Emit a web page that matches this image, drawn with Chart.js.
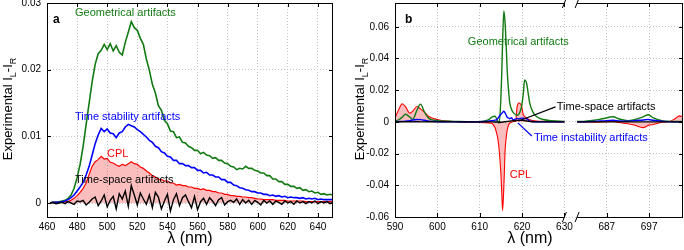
<!DOCTYPE html>
<html>
<head>
<meta charset="utf-8">
<script src="https://cdn.jsdelivr.net/npm/chart.js@4.4.0/dist/chart.umd.min.js"></script>
<style>
  html, body { margin: 0; padding: 0; background: #fff; }
  #wrap { position: relative; width: 684px; height: 250px; overflow: hidden; }
  #chartA { position: absolute; left: 0; top: 0; }
  #chartB { position: absolute; left: 340px; top: 0; }
</style>
</head>
<body>
<div id="wrap">
  <canvas id="chartA" width="340" height="250"></canvas>
  <canvas id="chartB" width="344" height="250"></canvas>
</div>
<script>
// ---- panel a : spectra, lambda in nm ----
const waveA = [
  462, 464, 466, 468, 470, 472, 474, 476, 478, 480,
  482, 484, 486, 488, 490, 492, 494, 496, 498, 500,
  502, 504, 506, 508, 510, 512, 514, 516, 518, 520,
  522, 524, 526, 528, 530, 532, 534, 536, 538, 540,
  542, 544, 546, 548, 550, 552, 554, 556, 558, 560,
  562, 564, 566, 568, 570, 572, 574, 576, 578, 580,
  582, 584, 586, 588, 590, 592, 594, 596, 598, 600,
  602, 604, 606, 608, 610, 612, 614, 616, 618, 620,
  622, 624, 626, 628, 630, 632, 634, 636, 638, 640,
  642, 644, 646, 648, 650
];
const geoA = [
  0.0000, 0.0001, 0.0001, 0.0002, 0.0003, 0.0004, 0.0007, 0.0012, 0.0022, 0.0038,
  0.0058, 0.0085, 0.0118, 0.0150, 0.0182, 0.0208, 0.0224, 0.0229, 0.0238, 0.0230,
  0.0239, 0.0228, 0.0236, 0.0226, 0.0222, 0.0241, 0.0256, 0.0272, 0.0263, 0.0259,
  0.0247, 0.0238, 0.0216, 0.0199, 0.0178, 0.0165, 0.0146, 0.0139, 0.0124, 0.0119,
  0.0108, 0.0107, 0.0098, 0.0099, 0.0091, 0.0090, 0.0085, 0.0083, 0.0079, 0.0079,
  0.0074, 0.0076, 0.0072, 0.0071, 0.0067, 0.0068, 0.0064, 0.0064, 0.0060, 0.0059,
  0.0055, 0.0054, 0.0050, 0.0052, 0.0051, 0.0055, 0.0052, 0.0052, 0.0049, 0.0048,
  0.0045, 0.0045, 0.0041, 0.0041, 0.0036, 0.0036, 0.0032, 0.0032, 0.0028, 0.0028,
  0.0025, 0.0025, 0.0022, 0.0023, 0.0019, 0.0020, 0.0017, 0.0018, 0.0015, 0.0016,
  0.0013, 0.0014, 0.0012, 0.0013, 0.0012
];
const stabA = [
  0.0000, 0.0001, 0.0001, 0.0001, 0.0002, 0.0003, 0.0005, 0.0008, 0.0012, 0.0018,
  0.0024, 0.0031, 0.0042, 0.0055, 0.0072, 0.0089, 0.0102, 0.0112, 0.0107, 0.0111,
  0.0105, 0.0104, 0.0098, 0.0105, 0.0107, 0.0114, 0.0118, 0.0116, 0.0114, 0.0110,
  0.0107, 0.0103, 0.0099, 0.0094, 0.0091, 0.0085, 0.0083, 0.0077, 0.0075, 0.0070,
  0.0069, 0.0064, 0.0064, 0.0059, 0.0059, 0.0056, 0.0056, 0.0053, 0.0053, 0.0049,
  0.0049, 0.0045, 0.0046, 0.0042, 0.0042, 0.0039, 0.0039, 0.0035, 0.0035, 0.0031,
  0.0031, 0.0027, 0.0026, 0.0023, 0.0022, 0.0020, 0.0019, 0.0017, 0.0017, 0.0015,
  0.0015, 0.0013, 0.0013, 0.0011, 0.0012, 0.0010, 0.0011, 0.0009, 0.0010, 0.0008,
  0.0009, 0.0008, 0.0008, 0.0007, 0.0008, 0.0006, 0.0007, 0.0006, 0.0007, 0.0005,
  0.0006, 0.0005, 0.0005, 0.0005, 0.0005
];
const cplA = [
  0.0000, 0.0000, 0.0001, 0.0001, 0.0001, 0.0002, 0.0002, 0.0004, 0.0007, 0.0011,
  0.0016, 0.0022, 0.0030, 0.0043, 0.0055, 0.0062, 0.0065, 0.0070, 0.0066, 0.0067,
  0.0061, 0.0060, 0.0057, 0.0055, 0.0058, 0.0056, 0.0059, 0.0062, 0.0059, 0.0058,
  0.0054, 0.0052, 0.0048, 0.0045, 0.0041, 0.0039, 0.0036, 0.0035, 0.0033, 0.0033,
  0.0030, 0.0030, 0.0027, 0.0028, 0.0026, 0.0026, 0.0024, 0.0024, 0.0022, 0.0022,
  0.0020, 0.0021, 0.0019, 0.0019, 0.0017, 0.0017, 0.0015, 0.0015, 0.0013, 0.0013,
  0.0011, 0.0011, 0.0010, 0.0010, 0.0009, 0.0009, 0.0008, 0.0008, 0.0007, 0.0006,
  0.0006, 0.0005, 0.0005, 0.0005, 0.0005, 0.0004, 0.0004, 0.0004, 0.0004, 0.0003,
  0.0003, 0.0003, 0.0003, 0.0003, 0.0003, 0.0002, 0.0002, 0.0002, 0.0002, 0.0002,
  0.0002, 0.0002, 0.0002, 0.0002, 0.0002
];
const tsA = [
  0.0000, 0.0001, -0.0001, 0.0000, 0.0001, -0.0001, 0.0002, 0.0000, -0.0002, 0.0003,
  0.0002, 0.0004, -0.0003, 0.0001, 0.0006, 0.0009, -0.0004, 0.0003, 0.0012, -0.0006,
  0.0004, 0.0010, -0.0009, 0.0014, 0.0006, 0.0018, -0.0005, 0.0026, 0.0012, -0.0003,
  0.0015, 0.0006, -0.0002, 0.0012, -0.0007, 0.0016, 0.0009, -0.0009, 0.0003, 0.0013,
  -0.0012, 0.0005, 0.0014, -0.0004, 0.0008, 0.0012, 0.0002, -0.0007, 0.0010, -0.0010,
  0.0002, 0.0007, -0.0002, 0.0008, 0.0003, -0.0004, 0.0005, 0.0008, -0.0003, 0.0002,
  0.0004, 0.0001, 0.0006, -0.0002, 0.0005, 0.0000, 0.0004, -0.0002, 0.0004, 0.0001,
  -0.0003, 0.0004, 0.0000, 0.0003, -0.0002, 0.0003, 0.0001, -0.0002, 0.0003, 0.0000,
  0.0002, -0.0002, 0.0003, 0.0000, 0.0002, -0.0001, 0.0002, 0.0000, 0.0003, -0.0001,
  0.0002, 0.0000, 0.0002, -0.0001, 0.0001
];
const xTicksA = [460, 480, 500, 520, 540, 560, 580, 600, 620, 640];
const yTicksA = [0, 0.01, 0.02, 0.03];

// ---- panel b : broken lambda axis (590-630 | 680-705) ----
const waveB = [
  590, 591, 591.7, 592.5, 593.5, 594.2, 595.2, 596, 597, 598,
  599.4, 601, 603, 605, 607, 609, 611, 612, 612.8, 613.2,
  613.6, 614, 614.3, 614.6, 615, 615.2, 615.4, 615.7, 616, 616.3,
  616.5, 616.9, 617.1, 617.5, 617.9, 618.5, 618.8, 619.3, 619.9, 620.3,
  620.6, 621.1, 621.5, 621.8, 622.5, 623.5, 625, 627, 630, 631,
  680, 682, 684, 686, 688.5, 690, 692, 693.5, 695.6, 696.8,
  698, 700, 702, 703, 704.2, 705
];
const geoB = [
  0.0005, 0.0015, 0.0030, 0.0048, 0.0030, 0.0016, 0.0075, 0.0112, 0.0060, 0.0022,
  0.0010, 0.0006, 0.0004, 0.0002, 0.0001, 0.0001, 0.0005, 0.0012, 0.0028, 0.0034,
  0.0036, 0.0020, 0.0002, -0.0009, 0.0150, 0.0300, 0.0500, 0.0700, 0.0620, 0.0450,
  0.0320, 0.0170, 0.0120, 0.0080, 0.0060, 0.0045, 0.0042, 0.0050, 0.0100, 0.0180,
  0.0265, 0.0240, 0.0170, 0.0120, 0.0065, 0.0032, 0.0015, 0.0007, 0.0003, null,
  0.0002, 0.0004, 0.0010, 0.0020, 0.0032, 0.0018, 0.0008, 0.0014, 0.0032, 0.0045,
  0.0025, 0.0008, 0.0003, 0.0002, 0.0002, 0.0002
];
const cplB = [
  0.0025, 0.0085, 0.0114, 0.0095, 0.0055, 0.0068, 0.0097, 0.0082, 0.0060, 0.0034,
  0.0019, 0.0008, 0.0004, 0.0000, -0.0004, -0.0002, -0.0005, -0.0006, -0.0009, -0.0019,
  -0.0035, -0.0072, -0.0110, -0.0178, -0.0326, -0.0440, -0.0559, -0.0410, -0.0178, -0.0090,
  -0.0051, -0.0015, -0.0008, -0.0003, 0.0002, 0.0002, 0.0090, 0.0119, 0.0097, 0.0044,
  0.0035, 0.0023, 0.0018, 0.0013, 0.0008, 0.0005, 0.0003, 0.0001, 0.0000, null,
  0.0000, 0.0000, -0.0002, 0.0000, 0.0002, -0.0004, -0.0012, -0.0020, -0.0036, -0.0022,
  -0.0016, -0.0002, 0.0004, 0.0018, 0.0038, 0.0030
];
const stabB = [
  0.0000, 0.0002, 0.0003, 0.0005, 0.0008, 0.0012, 0.0015, 0.0014, 0.0010, 0.0005,
  0.0002, 0.0001, 0.0000, 0.0000, 0.0000, 0.0000, 0.0002, 0.0004, 0.0007, 0.0009,
  0.0011, 0.0013, 0.0022, 0.0034, 0.0048, 0.0054, 0.0059, 0.0068, 0.0056, 0.0040,
  0.0029, 0.0024, 0.0020, 0.0026, 0.0013, 0.0018, 0.0022, 0.0019, 0.0024, 0.0023,
  0.0021, 0.0019, 0.0012, 0.0005, 0.0002, 0.0001, 0.0000, 0.0000, 0.0000, null,
  0.0000, 0.0001, 0.0003, 0.0006, 0.0010, 0.0006, 0.0004, 0.0008, 0.0012, 0.0015,
  0.0010, 0.0004, 0.0001, 0.0000, 0.0000, 0.0000
];
const tsB = [
  0.0000, 0.0000, 0.0001, 0.0000, 0.0001, 0.0000, 0.0001, 0.0000, 0.0000, 0.0001,
  0.0000, 0.0000, 0.0000, 0.0000, 0.0000, 0.0000, 0.0000, 0.0000, 0.0000, 0.0000,
  -0.0001, -0.0001, -0.0001, -0.0002, -0.0002, -0.0002, -0.0001, 0.0000, 0.0001, 0.0002,
  0.0003, 0.0004, 0.0005, 0.0006, 0.0007, 0.0008, 0.0009, 0.0010, 0.0010, 0.0009,
  0.0008, 0.0006, 0.0004, 0.0003, 0.0001, 0.0000, 0.0000, 0.0000, 0.0000, null,
  0.0000, 0.0000, 0.0000, 0.0000, 0.0000, 0.0000, 0.0000, 0.0000, 0.0000, 0.0000,
  0.0000, 0.0000, 0.0000, 0.0000, 0.0000, 0.0000
];
const xTicksB = [590, 600, 610, 620, 630, 687, 697];
const yTicksB = [-0.06, -0.04, -0.02, 0, 0.02, 0.04, 0.06];

// everything from 680 nm on is slid left so it sits just after the break
const breakEnd = 680;
const breakShift = 47;
function axisPos(w) { return w >= breakEnd ? w - breakShift : w; }

const FONT = '"Liberation Sans", Arial, Helvetica, sans-serif';
const GREEN = '#127a12';
const BLUE = '#0000ff';
const RED = '#ff0000';
const BLACK = '#000000';

function points(xs, ys, mapX) {
  return xs.map((x, i) => ({ x: mapX ? mapX(x) : x, y: ys[i] }));
}

function fmt(v) { return v === 0 ? '0' : String(v); }

// y axis title with subscripts, rotated
function drawYTitle(ctx, x, y, size) {
  const parts = [['Experimental I', false], ['L', true], ['-I', false], ['R', true]];
  const fontOf = sub => (sub ? Math.round(size * 0.72) : size) + 'px ' + FONT;
  ctx.save();
  ctx.translate(x, y);
  ctx.rotate(-Math.PI / 2);
  ctx.fillStyle = '#000';
  ctx.textBaseline = 'alphabetic';
  ctx.textAlign = 'left';
  let total = 0;
  parts.forEach(p => { ctx.font = fontOf(p[1]); total += ctx.measureText(p[0]).width; });
  let cx = -total / 2;
  parts.forEach(p => {
    ctx.font = fontOf(p[1]);
    ctx.fillText(p[0], cx, p[1] ? size * 0.28 : 0);
    cx += ctx.measureText(p[0]).width;
  });
  ctx.restore();
}

// box, inward ticks, axis break marks
function drawFrame(chart, gap) {
  const ctx = chart.ctx;
  const a = chart.chartArea;
  const xs = chart.scales.x, ys = chart.scales.y;
  ctx.save();
  ctx.strokeStyle = '#000';
  ctx.lineWidth = 1;
  let segs = [[a.left, a.right]];
  let g0, g1;
  if (gap) {
    g0 = xs.getPixelForValue(gap[0]);
    g1 = xs.getPixelForValue(gap[1]);
    segs = [[a.left, g0], [g1, a.right]];
  }
  ctx.beginPath();
  segs.forEach(s => {
    ctx.moveTo(s[0], a.top + 0.5); ctx.lineTo(s[1], a.top + 0.5);
    ctx.moveTo(s[0], a.bottom + 0.5); ctx.lineTo(s[1], a.bottom + 0.5);
  });
  ctx.moveTo(a.left + 0.5, a.top); ctx.lineTo(a.left + 0.5, a.bottom);
  ctx.moveTo(a.right - 0.5, a.top); ctx.lineTo(a.right - 0.5, a.bottom);
  const tl = 4;
  xs.ticks.forEach(t => {
    const px = Math.round(xs.getPixelForValue(t.value)) + 0.5;
    ctx.moveTo(px, a.bottom); ctx.lineTo(px, a.bottom - tl);
    ctx.moveTo(px, a.top); ctx.lineTo(px, a.top + tl);
  });
  ys.ticks.forEach(t => {
    const py = Math.round(ys.getPixelForValue(t.value)) + 0.5;
    ctx.moveTo(a.left, py); ctx.lineTo(a.left + tl, py);
    ctx.moveTo(a.right, py); ctx.lineTo(a.right - tl, py);
  });
  ctx.stroke();
  if (gap) {
    ctx.beginPath();
    [g0, g1].forEach(g => {
      [a.top, a.bottom].forEach(yy => {
        ctx.moveTo(g - 2, yy + 5); ctx.lineTo(g + 2, yy - 5);
      });
    });
    ctx.stroke();
  }
  ctx.restore();
}

function drawNotes(chart, notes) {
  const ctx = chart.ctx;
  const xs = chart.scales.x, ys = chart.scales.y;
  ctx.save();
  ctx.textBaseline = 'middle';
  ctx.textAlign = 'left';
  notes.forEach(n => {
    ctx.font = '11px ' + FONT;
    ctx.fillStyle = n.color;
    ctx.fillText(n.text, xs.getPixelForValue(n.x), ys.getPixelForValue(n.y));
  });
  ctx.restore();
}

function drawLeaders(chart, leaders) {
  const ctx = chart.ctx;
  const xs = chart.scales.x, ys = chart.scales.y;
  ctx.save();
  ctx.lineWidth = 1.2;
  leaders.forEach(l => {
    ctx.strokeStyle = l.color;
    ctx.beginPath();
    ctx.moveTo(xs.getPixelForValue(l.from[0]), ys.getPixelForValue(l.from[1]));
    ctx.lineTo(xs.getPixelForValue(l.to[0]), ys.getPixelForValue(l.to[1]));
    ctx.stroke();
  });
  ctx.restore();
}

function drawXTitle(chart, cx) {
  const ctx = chart.ctx;
  ctx.save();
  ctx.font = '16px ' + FONT;
  ctx.fillStyle = '#000';
  ctx.textAlign = 'center';
  ctx.textBaseline = 'middle';
  ctx.fillText('λ (nm)', cx, 239);
  ctx.restore();
}

function drawPanelLetter(chart, letter, dx) {
  const ctx = chart.ctx;
  const a = chart.chartArea;
  ctx.save();
  ctx.font = 'bold 12px ' + FONT;
  ctx.fillStyle = '#000';
  ctx.textBaseline = 'middle';
  ctx.fillText(letter, a.left + dx, 20);
  ctx.restore();
}

const notesA = [
  { text: 'Geometrical artifacts', x: 478.6, y: 0.0285, color: GREEN },
  { text: 'Time stability artifacts', x: 478.6, y: 0.0129, color: BLUE },
  { text: 'CPL', x: 499.9, y: 0.0074, color: RED },
  { text: 'Time-space artifacts', x: 478.6, y: 0.0035, color: BLACK }
];
const notesB = [
  { text: 'Geometrical artifacts', x: 607.2, y: 0.0502, color: GREEN },
  { text: 'Time-space artifacts', x: 628.2, y: 0.0095, color: BLACK },
  { text: 'Time instability artifacts', x: 622.8, y: -0.0102, color: BLUE },
  { text: 'CPL', x: 617.1, y: -0.0337, color: RED }
];
const leadersB = [
  { from: [627.9, 0.0095], to: [619.2, 0.0006], color: BLACK },
  { from: [622.3, -0.0089], to: [619.0, -0.0006], color: BLUE }
];

function baseScales(xMin, xMax, xTicks, yMin, yMax, yTicks, yWidth, xLabel) {
  const tickFont = { family: FONT, size: 10 };
  return {
    x: {
      type: 'linear', min: xMin, max: xMax,
      afterBuildTicks: s => { s.ticks = xTicks.map(v => ({ value: v })); },
      afterFit: s => { s.height = 33; s.paddingLeft = 0; s.paddingRight = 0; },
      ticks: { font: tickFont, color: '#000', padding: 4, maxRotation: 0, autoSkip: false, callback: xLabel },
      grid: { color: '#c4c4c4', lineWidth: 1, drawTicks: false },
      border: { display: false, dash: [1, 2] }
    },
    y: {
      type: 'linear', min: yMin, max: yMax,
      afterBuildTicks: s => { s.ticks = yTicks.map(v => ({ value: v })); },
      afterFit: s => { s.width = yWidth; s.paddingTop = 0; s.paddingBottom = 0; },
      ticks: { font: tickFont, color: '#000', padding: 6, callback: v => fmt(v) },
      grid: { color: '#c4c4c4', lineWidth: 1, drawTicks: false },
      border: { display: false, dash: [1, 2] }
    }
  };
}

new Chart(document.getElementById('chartA'), {
  type: 'line',
  data: {
    datasets: [
      { label: 'Time-space artifacts', data: points(waveA, tsA), borderColor: BLACK, borderWidth: 1.4 },
      { label: 'Time stability artifacts', data: points(waveA, stabA), borderColor: BLUE, borderWidth: 1.6 },
      { label: 'Geometrical artifacts', data: points(waveA, geoA), borderColor: GREEN, borderWidth: 1.6 },
      { label: 'CPL', data: points(waveA, cplA), borderColor: RED, borderWidth: 1.2,
        fill: 'origin', backgroundColor: 'rgba(240, 40, 40, 0.3)' }
    ]
  },
  options: {
    responsive: false,
    animation: false,
    layout: { padding: { left: 0, right: 7, top: 3, bottom: 0 } },
    elements: { point: { radius: 0 }, line: { tension: 0 } },
    plugins: { legend: { display: false }, tooltip: { enabled: false } },
    scales: baseScales(460, 650, xTicksA, -0.0021, 0.03, yTicksA, 47, v => String(v))
  },
  plugins: [{
    id: 'decorA',
    afterDatasetsDraw(chart) {
      drawFrame(chart, null);
      drawNotes(chart, notesA);
      drawPanelLetter(chart, 'a', 6);
    },
    afterDraw(chart) {
      drawXTitle(chart, 190);
      drawYTitle(chart.ctx, 12, 109, 13);
    }
  }]
});

new Chart(document.getElementById('chartB'), {
  type: 'line',
  data: {
    datasets: [
      { label: 'Time-space artifacts', data: points(waveB, tsB, axisPos), borderColor: BLACK, borderWidth: 1.4 },
      { label: 'Time instability artifacts', data: points(waveB, stabB, axisPos), borderColor: BLUE, borderWidth: 1.4 },
      { label: 'Geometrical artifacts', data: points(waveB, geoB, axisPos), borderColor: GREEN, borderWidth: 1.4 },
      { label: 'CPL', data: points(waveB, cplB, axisPos), borderColor: RED, borderWidth: 1.1,
        fill: 'origin', backgroundColor: 'rgba(240, 40, 40, 0.3)' }
    ]
  },
  options: {
    responsive: false,
    animation: false,
    layout: { padding: { left: 0, right: 1, top: 3, bottom: 0 } },
    elements: { point: { radius: 0 }, line: { tension: 0, cubicInterpolationMode: 'monotone' } },
    plugins: { legend: { display: false }, tooltip: { enabled: false } },
    scales: baseScales(590, axisPos(705), xTicksB.map(axisPos), -0.06, 0.075, yTicksB, 55,
      (v, i) => String(xTicksB[i]))
  },
  plugins: [{
    id: 'decorB',
    afterDatasetsDraw(chart) {
      drawFrame(chart, [630, axisPos(breakEnd)]);
      drawNotes(chart, notesB);
      drawLeaders(chart, leadersB);
      drawPanelLetter(chart, 'b', 10);
    },
    afterDraw(chart) {
      // x title sits a little left of the plot centre, as in the figure
      drawXTitle(chart, 190);
      drawYTitle(chart.ctx, 24, 109, 13);
    }
  }]
});
</script>
</body>
</html>
